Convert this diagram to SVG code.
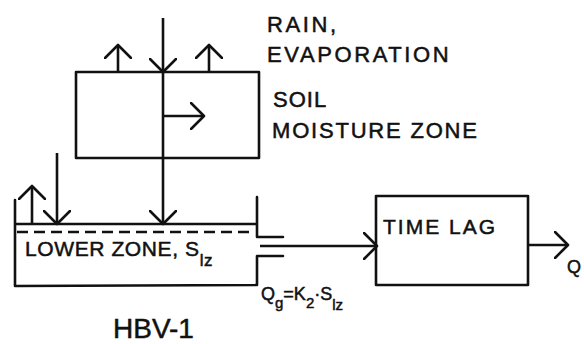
<svg xmlns="http://www.w3.org/2000/svg" width="584" height="344" viewBox="0 0 584 344">
<defs>
<style>
.ln{fill:none;stroke:#111;stroke-width:2.6;stroke-linecap:round;stroke-linejoin:round}
.ar{fill:none;stroke:#111;stroke-width:2.6;marker-end:url(#ah)}
.t{font-family:"Liberation Sans",Arial,sans-serif;fill:#111;stroke:#111;stroke-width:0.5}
</style>
<marker id="ah" markerUnits="userSpaceOnUse" viewBox="-1 -1 16 28" refX="13" refY="13" markerWidth="16" markerHeight="28" orient="auto">
<path d="M0,0 L13,13 L0,26" fill="none" stroke="#111" stroke-width="2.6" stroke-linecap="round" stroke-linejoin="round"/>
</marker>
</defs>
<rect width="584" height="344" fill="#fff"/>
<g id="soil-moisture-zone">
<rect class="ln" x="76" y="72" width="183" height="86"/>
<text class="t" x="273" y="107" font-size="22" letter-spacing="1">SOIL</text>
<text class="t" x="272" y="138" font-size="22" letter-spacing="1.8">MOISTURE ZONE</text>
</g>
<g id="lower-zone">
<path class="ln" d="M15,200 L15,286 L257,285 L257,256 L283,256 M15,224 L257,224 M257,197 L257,237 L283,237"/>
<line x1="17" y1="232" x2="254" y2="232" stroke="#111" stroke-width="2.4" stroke-dasharray="11 6"/>
<text class="t" x="25" y="256" font-size="21" letter-spacing="0.6">LOWER ZONE, S<tspan font-size="17" dy="10">lz</tspan></text>
</g>
<g id="time-lag">
<rect class="ln" x="376" y="196" width="152" height="89"/>
<text class="t" x="383" y="234" font-size="21" letter-spacing="2">TIME LAG</text>
</g>
<g id="connectors">
<line class="ar" x1="163" y1="18" x2="163" y2="72"/>
<line class="ar" x1="163" y1="72" x2="163" y2="224"/>
<line class="ar" x1="118" y1="72" x2="118" y2="45"/>
<line class="ar" x1="209" y1="72" x2="209" y2="45"/>
<line class="ar" x1="163" y1="116" x2="204" y2="116"/>
<line class="ar" x1="57" y1="153" x2="57" y2="224"/>
<line class="ar" x1="32" y1="224" x2="32" y2="186"/>
<line class="ar" x1="260" y1="246" x2="377" y2="246"/>
<line class="ar" x1="528" y1="245" x2="568" y2="245"/>
</g>
<g id="labels">
<text class="t" x="267" y="32" font-size="22" letter-spacing="2.6">RAIN,</text>
<text class="t" x="267" y="62" font-size="22" letter-spacing="2.6">EVAPORATION</text>
<text class="t" x="261" y="300" font-size="18">Q<tspan font-size="15" dy="8">g</tspan><tspan dy="-8">=K</tspan><tspan font-size="15" dy="8">2</tspan><tspan dy="-8">·S</tspan><tspan font-size="15" dy="10">lz</tspan></text>
<text class="t" x="567" y="273" font-size="18">Q</text>
<text class="t" x="113" y="338" font-size="28">HBV-1</text>
</g>
</svg>
